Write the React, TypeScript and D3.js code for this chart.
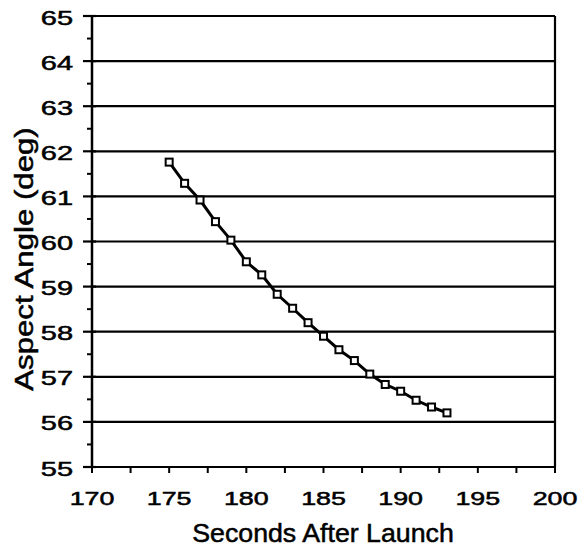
import React from "react";
import * as d3 from "d3";

const seconds = [175, 176, 177, 178, 179, 180, 181, 182, 183, 184, 185, 186, 187, 188, 189, 190, 191, 192, 193];
const aspectAngle = [61.76, 61.29, 60.92, 60.44, 60.03, 59.55, 59.26, 58.83, 58.52, 58.2, 57.9, 57.6, 57.36, 57.06, 56.83, 56.68, 56.48, 56.33, 56.2];
const xTicks = [170, 175, 180, 185, 190, 195, 200];
const xMinorTicks = [170, 172.5, 175, 177.5, 180, 182.5, 185, 187.5, 190, 192.5, 195, 197.5, 200];
const yTicks = [55, 56, 57, 58, 59, 60, 61, 62, 63, 64, 65];
const yMinorTicks = [55.5, 56.5, 57.5, 58.5, 59.5, 60.5, 61.5, 62.5, 63.5, 64.5];
const xTitle = "Seconds After Launch";
const yTitle = "Aspect Angle (deg)";

export default function App() {
  const W = 587, H = 551;
  const x = d3.scaleLinear().domain([170, 200]).range([92, 555]);
  const y = d3.scaleLinear().domain([55, 65]).range([467, 16]);
  const pts = seconds.map((s, i) => [s, aspectAngle[i]] as [number, number]);
  const line = d3.line<[number, number]>().x(d => x(d[0])).y(d => y(d[1]));
  const font = "'Liberation Sans', Arial, Helvetica, sans-serif";
  const tStroke = { stroke: "#000", strokeWidth: 0.5 };
  return (
    <svg width={W} height={H} style={{ position: "absolute", left: 0, top: 0, background: "#fff" }}>
      <rect x={0} y={0} width={W} height={H} fill="#fff" />
      {yTicks.map(t => (
        <line key={"g" + t} x1={x(170)} x2={x(200)} y1={y(t)} y2={y(t)} stroke="#000" strokeWidth={2.2} />
      ))}
      <line x1={x(170)} x2={x(170)} y1={y(55)} y2={y(65)} stroke="#000" strokeWidth={2.5} />
      <line x1={x(200)} x2={x(200)} y1={y(55)} y2={y(65)} stroke="#000" strokeWidth={2.2} />
      {yTicks.map(t => (
        <line key={"yt" + t} x1={x(170) - 9} x2={x(170) + 4} y1={y(t)} y2={y(t)} stroke="#000" strokeWidth={2.2} />
      ))}
      {yMinorTicks.map(t => (
        <line key={"ym" + t} x1={x(170) - 5} x2={x(170)} y1={y(t)} y2={y(t)} stroke="#000" strokeWidth={2} />
      ))}
      {xMinorTicks.map(t => (
        <line key={"xm" + t} x1={x(t)} x2={x(t)} y1={y(55)} y2={y(55) + 6} stroke="#000" strokeWidth={2} />
      ))}
      {yTicks.map(t => (
        <text key={"yl" + t} transform={`translate(73,${y(t) + 8.5}) scale(1.45,1)`} textAnchor="end"
          fontFamily={font} fontSize={20} fill="#000" {...tStroke}>{t}</text>
      ))}
      {xTicks.map(t => (
        <text key={"xl" + t} transform={`translate(${x(t)},505) scale(1.45,1)`} textAnchor="middle"
          fontFamily={font} fontSize={18.5} fill="#000" {...tStroke}>{t}</text>
      ))}
      <text transform="translate(323,542) scale(1.07,1)" textAnchor="middle" fontFamily={font} fontSize={25} fill="#000" {...tStroke}>{xTitle}</text>
      <text transform="translate(33,259) rotate(-90) scale(1.2,1)" textAnchor="middle" fontFamily={font} fontSize={26} fill="#000" {...tStroke}>{yTitle}</text>
      <path d={line(pts) || ""} fill="none" stroke="#000" strokeWidth={3} />
      {pts.map((p, i) => (
        <rect key={"m" + i} x={x(p[0]) - 3.5} y={y(p[1]) - 3.5} width={7} height={7} fill="#fff" stroke="#000" strokeWidth={2} />
      ))}
    </svg>
  );
}
